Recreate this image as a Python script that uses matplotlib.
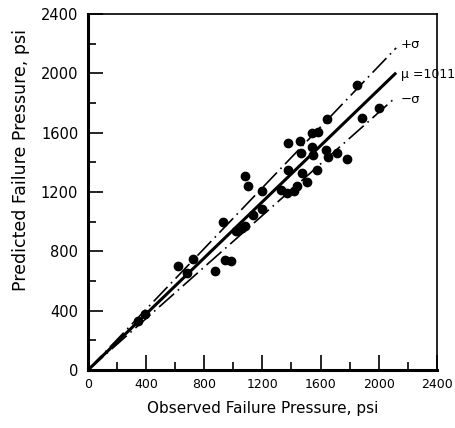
import numpy as np
import matplotlib
matplotlib.use("Agg")
import matplotlib.pyplot as plt
from matplotlib.ticker import MultipleLocator

# observed vs predicted failure pressure (psi)
observed = [1850, 2000, 1885, 1645, 1540, 1580, 1375, 1460, 1465, 1540,
            1545, 1635, 1650, 1710, 1780, 1080, 1375, 1470, 1575, 1100,
            1195, 1325, 1370, 1415, 1440, 1505, 930, 1060, 1080, 1135,
            1195, 1020, 620, 720, 680, 940, 985, 875, 395, 345]
predicted = [1920, 1765, 1700, 1690, 1600, 1605, 1530, 1545, 1465, 1505,
             1450, 1485, 1435, 1465, 1425, 1310, 1350, 1330, 1350, 1240,
             1205, 1215, 1195, 1205, 1240, 1265, 1000, 955, 970, 1045,
             1085, 940, 700, 750, 655, 740, 735, 665, 375, 330]

# fitted ratio lines (slope of predicted/observed)
slope_mean = 0.945
slope_plus = 1.024
slope_minus = 0.868
x_end = 2120

fig = plt.figure(figsize=(4.56, 4.28), dpi=100)
ax = fig.add_axes([0.193, 0.1355, 0.765, 0.832])

xs = np.array([0, x_end])
ax.plot(xs, slope_mean * xs, color="black", lw=2.2, solid_capstyle="butt")
ax.plot(xs, slope_plus * xs, color="black", lw=1.2, ls=(0, (12, 3, 1, 3)))
ax.plot(xs, slope_minus * xs, color="black", lw=1.2, ls=(0, (12, 3, 1, 3)))

ax.plot(observed, predicted, "o", color="black", ms=6, mec="black")

ax.text(2150, 2195, "+σ", fontsize=9.5, va="center", ha="left", clip_on=False)
ax.text(2150, 1990, "μ =1011", fontsize=9, va="center", ha="left", clip_on=False)
ax.text(2150, 1820, "−σ", fontsize=9.5, va="center", ha="left", clip_on=False)

ax.set_xlim(0, 2400)
ax.set_ylim(0, 2400)
ax.xaxis.set_major_locator(MultipleLocator(400))
ax.yaxis.set_major_locator(MultipleLocator(400))
ax.xaxis.set_minor_locator(MultipleLocator(200))
ax.yaxis.set_minor_locator(MultipleLocator(200))
ax.tick_params(which="major", direction="in", length=11, width=1.2, pad=6)
ax.tick_params(which="minor", direction="in", length=6, width=1.2)
ax.tick_params(axis="x", labelsize=9)
ax.tick_params(axis="y", labelsize=10.5, pad=7)
ax.tick_params(axis="y", which="both", right=False)
ax.tick_params(axis="x", which="both", top=False)

ax.spines["left"].set_linewidth(2.2)
ax.spines["bottom"].set_linewidth(2.2)
ax.spines["top"].set_linewidth(1.2)
ax.spines["right"].set_linewidth(1.2)

ax.set_xlabel("Observed Failure Pressure, psi", fontsize=11, labelpad=7)
ax.set_ylabel("Predicted Failure Pressure, psi", fontsize=12.5)
ax.yaxis.set_label_coords(-0.165, 0.59)

fig.savefig("out.png", dpi=100)
